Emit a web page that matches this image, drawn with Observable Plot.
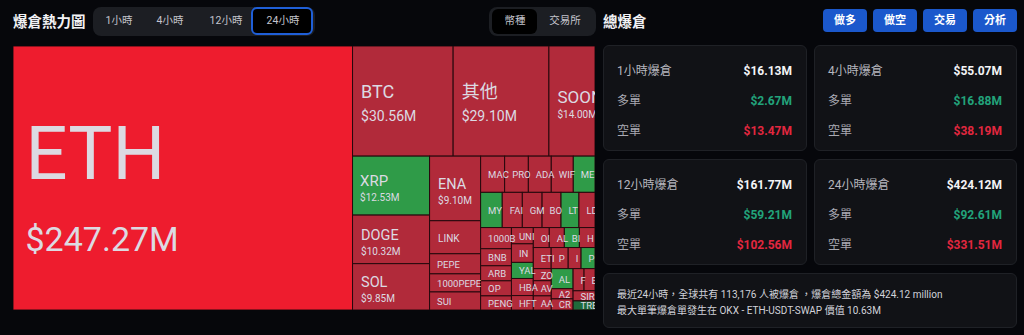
<!DOCTYPE html>
<html><head><meta charset="utf-8">
<script src="https://cdn.jsdelivr.net/npm/d3@7"></script>
<script src="https://cdn.jsdelivr.net/npm/@observablehq/plot@0.6"></script>
<style>
html,body{margin:0;padding:0}
body{background:#06070b;width:1024px;height:335px;overflow:hidden;position:relative;font-family:Roboto,"Noto Sans CJK TC",sans-serif;color:#fff}
.a{position:absolute;box-sizing:border-box}
.title{font-size:14.5px;font-weight:700;color:#f2f2f5;line-height:20px}
.pill{background:#1c1e23;border-radius:8px}
.tab{font-size:10.5px;color:#c4c4cc;text-align:center;line-height:28px;height:28px}
.sel{background:#000;border-radius:6px}
.btn{background:#1b58cc;border-radius:4px;color:#fff;font-size:11px;font-weight:700;text-align:center;line-height:23px;height:23px;width:44px;top:9px}
.card{background:#111216;border:1px solid #1f2126;border-radius:6px}
.row{left:13px;right:14px;height:16px;line-height:16px;font-size:12px}
.row .l{position:absolute;left:0;color:#a9a9b2}
.row .v{position:absolute;right:0;font-weight:700}
.note{left:13px;font-size:10px;color:#d2d2da;line-height:14px;white-space:nowrap}
</style></head>
<body>
<div class="a title" style="left:13px;top:13px">爆倉熱力圖</div>
<div class="a pill" style="left:93px;top:7px;width:222px;height:29px"></div>
<div class="a sel" style="left:251px;top:7px;width:62px;height:28px;border:2px solid #1f5fd8"></div>
<div id="tabs"></div>
<div class="a pill" style="left:489px;top:7px;width:107px;height:29px"></div>
<div class="a sel" style="left:492px;top:9px;width:45px;height:25px"></div>
<div id="toggle"></div>
<div class="a title" style="left:603px;top:13px">總爆倉</div>
<div id="btns"></div>
<div id="cards"></div>
<div id="chart" class="a" style="left:13px;top:46px;width:582px;height:264px"></div>
<script>
// ---------- data ----------
const rangeTabs = ["1小時", "4小時", "12小時", "24小時"];
const groupTabs = ["幣種", "交易所"];
const actionButtons = ["做多", "做空", "交易", "分析"];

// coins in the treemap's reading order, liquidations in $M
const coins = ["ETH","BTC","其他","SOON","XRP","DOGE","SOL","ENA","LINK","PEPE","1000PEPE","SUI",
  "MAC","PRO","ADA","WIF","ME","MY","FAI","GM","BO","LT","LD",
  "1000B","BNB","ARB","OP","PENG","UNI","IN","YAL","HBA","HFT",
  "OI","AL","BI","H","ETI","P","I","P","ZO","AV","AA","AL","A2","CR","F","E","SIR","TRE"];
const liqM = [247.27,30.56,29.10,14.00,12.53,10.32,9.85,9.10,4.65,2.83,2.55,2.54,
  2.40,2.37,2.29,2.20,2.17,2.10,1.95,1.92,1.84,1.74,1.56,
  1.80,1.45,1.28,1.28,1.20,0.98,1.12,0.97,1.03,0.87,
  0.88,0.83,0.83,0.86,1.04,0.99,0.75,0.81,0.60,0.75,0.70,1.21,0.61,0.67,0.67,0.67,0.61,0.55];
const tone = ["hot","short","short","short","long","short","short","short","short","short","short","short",
  "short","short","short","short","long","long","short","short","short","long","short",
  "short","short","short","short","short","short","short","long","short","short",
  "short","short","long","short","short","short","short","long","short","short","short",
  "long","short","short","short","short","short","longDim"];
// how many cells each strip of the treemap holds, in order
const stripSizes = [1,3,3,5,5,6,5,5,4,4,3,3,2,2];

const cardTitles = ["1小時爆倉", "4小時爆倉", "12小時爆倉", "24小時爆倉"];
const cardTotal = ["$16.13M", "$55.07M", "$161.77M", "$424.12M"];
const cardLong = ["$2.67M", "$16.88M", "$59.21M", "$92.61M"];
const cardShort = ["$13.47M", "$38.19M", "$102.56M", "$331.51M"];
const noteLines = ["最近24小時，全球共有 113,176 人被爆倉 ，爆倉總金額為 $424.12 million",
  "最大單筆爆倉單發生在 OKX - ETH-USDT-SWAP 價值 10.63M"];

// ---------- header ----------
const tabCenters = [119, 170, 226, 283];
document.getElementById("tabs").innerHTML = rangeTabs.map((t, i) =>
  `<div class="a tab" style="left:${tabCenters[i]-30}px;top:7px;width:60px">${t}</div>`).join("");
const togCenters = [515, 565];
document.getElementById("toggle").innerHTML = groupTabs.map((t, i) =>
  `<div class="a tab" style="left:${togCenters[i]-25}px;top:7px;width:50px">${t}</div>`).join("");
document.getElementById("btns").innerHTML = actionButtons.map((t, i) =>
  `<div class="a btn" style="left:${823+i*50}px">${t}</div>`).join("");

// ---------- cards ----------
const cardPos = [[603,45,204],[814,45,203],[603,159,204],[814,159,203]];
let html = "";
cardTitles.forEach((t, i) => {
  const [x, y, w] = cardPos[i];
  html += `<div class="a card" style="left:${x}px;top:${y}px;width:${w}px;height:106px">
   <div class="a row" style="top:17px"><span class="l" style="color:#b6b6be">${t}</span><span class="v" style="color:#f4f4f6">${cardTotal[i]}</span></div>
   <div class="a row" style="top:47px"><span class="l">多單</span><span class="v" style="color:#22a37b">${cardLong[i]}</span></div>
   <div class="a row" style="top:77px"><span class="l">空單</span><span class="v" style="color:#e2273f">${cardShort[i]}</span></div>
  </div>`;
});
html += `<div class="a card" style="left:603px;top:273px;width:414px;height:55px">
  <div class="a note" style="top:14px">${noteLines[0]}</div>
  <div class="a note" style="top:30px">${noteLines[1]}</div></div>`;
document.getElementById("cards").innerHTML = html;

// ---------- treemap ----------
const W = 582, H = 264;
const table = coins.map((c, i) => ({i, coin: c, v: liqM[i], tone: tone[i]}));
// squarified strips: each strip runs along the shorter side of the space left
function stripTile(parent, x0, y0, x1, y1) {
  const nodes = parent.children;
  let value = parent.value, i = 0;
  for (const n of stripSizes) {
    const row = {children: nodes.slice(i, i + n)};
    row.value = d3.sum(row.children, d => d.value);
    const dx = x1 - x0, dy = y1 - y0;
    if (dx < dy) { const y = y0 + dy * row.value / value; d3.treemapDice(row, x0, y0, x1, y); y0 = y; }
    else { const x = x0 + dx * row.value / value; d3.treemapSlice(row, x0, y0, x, y1); x0 = x; }
    value -= row.value; i += n;
  }
}
const root = d3.hierarchy({children: table}).sum(d => d.v || 0);
d3.treemap().size([W, H]).tile(stripTile)(root);
const cells = root.leaves().map(n => ({...n.data, x0: n.x0, x1: n.x1, y0: n.y0, y1: n.y1}));

function style(v) {
  if (v >= 100) return {lfs: 74, vfs: 34, pad: 12, ly: 0, vy: 72};
  if (v >= 20) return {lfs: 18, vfs: 14, pad: 8, ly: -4, vy: 19};
  if (v >= 13.5) return {lfs: 17, vfs: 10, pad: 8, ly: 1, vy: 16};
  if (v >= 12) return {lfs: 15, vfs: 10, pad: 7, ly: 0, vy: 15};
  if (v >= 8) return {lfs: 14.5, vfs: 10, pad: 8, ly: 0, vy: 15};
  if (v >= 4) return {lfs: 10, vfs: 0, pad: 8, ly: 4, vy: 0};
  return {lfs: 9.5, vfs: 0, pad: 7, ly: 3.5, vy: 0};
}
const texts = [];
cells.forEach(c => {
  const s = style(c.v), cy = (c.y0 + c.y1) / 2;
  texts.push({fs: s.lfs, x: c.x0 + s.pad, y: cy + s.ly, t: c.coin, c});
  if (s.vfs) texts.push({fs: s.vfs, x: c.x0 + s.pad, y: cy + s.vy, t: "$" + c.v.toFixed(2) + "M", c});
});
const key = fs => "lbl" + String(fs).replace(".", "_");
const sizes = [...new Set(texts.map(d => d.fs))];
const textMarks = sizes.map(fs => Plot.text(texts.filter(d => d.fs === fs), {
  x: "x", y: "y", text: "t", textAnchor: "start", lineAnchor: "bottom",
  fontSize: fs, fill: "#dcdae2", ariaLabel: key(fs)
}));

const plot = Plot.plot({
  width: W, height: H, margin: 0,
  x: {domain: [0, W], range: [0, W], axis: null},
  y: {domain: [0, H], range: [0, H], axis: null},
  color: {domain: ["hot", "short", "long", "longDim"], range: ["#ee1c2e", "#b12a3a", "#2f9b48", "#1f6b3b"]},
  style: {background: "transparent", fontFamily: "Roboto, 'Noto Sans CJK TC', sans-serif", overflow: "hidden"},
  marks: [
    Plot.rect(cells, {x1: "x0", x2: "x1", y1: "y0", y2: "y1", fill: "tone", stroke: "#26090d", strokeWidth: 1}),
    ...textMarks
  ]
});
document.getElementById("chart").appendChild(plot);

// clip each label to its own cell
const svg = d3.select(plot);
const defs = svg.insert("defs", ":first-child");
const xs = plot.scale("x"), ys = plot.scale("y");
sizes.forEach(fs => {
  const data = texts.filter(d => d.fs === fs);
  svg.selectAll(`g[aria-label="${key(fs)}"] text`).each(function(_, k) {
    const d = data[k]; if (!d) return;
    const id = `clip_${key(fs)}_${k}`;
    const x0 = xs.apply(d.c.x0), x1 = xs.apply(d.c.x1), y0 = ys.apply(d.c.y0), y1 = ys.apply(d.c.y1);
    defs.append("clipPath").attr("id", id).append("rect")
      .attr("x", x0).attr("y", y0).attr("width", x1 - x0 - 1).attr("height", y1 - y0);
    d3.select(this).attr("clip-path", `url(#${id})`);
  });
});
</script>
</body></html>
